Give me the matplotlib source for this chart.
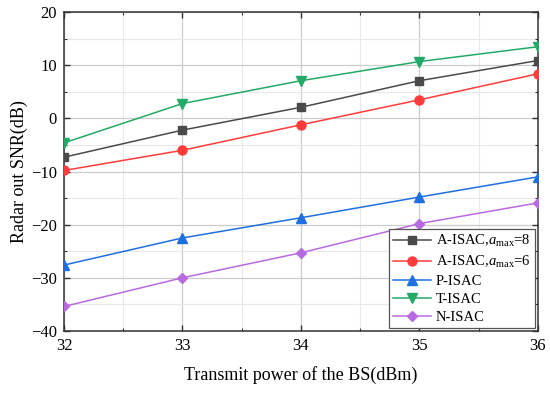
import numpy as np
import matplotlib
matplotlib.use("Agg")
import matplotlib.pyplot as plt
from matplotlib.ticker import MultipleLocator

plt.rcParams['font.family'] = ['Liberation Serif', 'DejaVu Serif']
plt.rcParams['mathtext.fontset'] = 'custom'
plt.rcParams['mathtext.rm'] = 'Liberation Serif'
plt.rcParams['mathtext.it'] = 'Liberation Serif:italic'

power = [32, 33, 34, 35, 36]
a_isac_8 = [-7.3, -2.2, 2.1, 7.1, 10.9]
a_isac_6 = [-9.8, -6.0, -1.2, 3.5, 8.4]
p_isac = [-27.6, -22.5, -18.7, -14.8, -11.0]
t_isac = [-4.6, 2.8, 7.1, 10.7, 13.5]
n_isac = [-35.4, -30.0, -25.3, -19.8, -15.9]

fig, ax = plt.subplots(figsize=(5.5, 3.93), dpi=100)
fig.subplots_adjust(left=0.1164, right=0.978, top=0.969, bottom=0.158)

ax.plot(power, a_isac_8, color='#4a4a4a', marker='s', ms=6, lw=1.1,
        label=r'A-ISAC,$a_{\mathrm{max}}$=8', zorder=3)
ax.plot(power, a_isac_6, color='#ff3b3b', marker='o', ms=6.5, lw=1.1,
        label=r'A-ISAC,$a_{\mathrm{max}}$=6', zorder=3)
ax.plot(power, p_isac, color='#1e6fe0', marker='^', ms=7, lw=1.1,
        label='P-ISAC', zorder=3)
ax.plot(power, t_isac, color='#22aa66', marker='v', ms=7, lw=1.1,
        label='T-ISAC', zorder=3)
ax.plot(power, n_isac, color='#b86ae0', marker='D', ms=5.5, lw=1.1,
        label='N-ISAC', zorder=3)

ax.set_xlim(32, 36)
ax.set_ylim(-40, 20)
ax.xaxis.set_major_locator(MultipleLocator(1))
ax.xaxis.set_minor_locator(MultipleLocator(0.5))
ax.yaxis.set_major_locator(MultipleLocator(10))
ax.yaxis.set_minor_locator(MultipleLocator(5))

ax.grid(which='major', color='#cccccc', lw=0.9)
ax.grid(which='minor', color='#e8e8e8', lw=0.8)
ax.set_axisbelow(True)

ax.tick_params(which='both', direction='in', top=True, right=True,
               labelsize=12, color='#333333', pad=5)
ax.tick_params(which='major', length=4, width=1)
ax.tick_params(which='minor', length=2.5, width=0.8)
for s in ax.spines.values():
    s.set_color('#333333')
    s.set_linewidth(1.1)

ax.set_xlabel('Transmit power of the BS(dBm)', fontsize=13, labelpad=9)
ax.set_ylabel('Radar out SNR(dB)', fontsize=13, labelpad=2)

leg = ax.legend(loc='lower right', fontsize=10.5, fancybox=False,
                edgecolor='#555555', framealpha=1, borderpad=0.3,
                labelspacing=0.32, handlelength=2.6, handletextpad=0.3,
                borderaxespad=0.2)
leg.get_frame().set_linewidth(0.9)

fig.savefig('out.png', dpi=100)
